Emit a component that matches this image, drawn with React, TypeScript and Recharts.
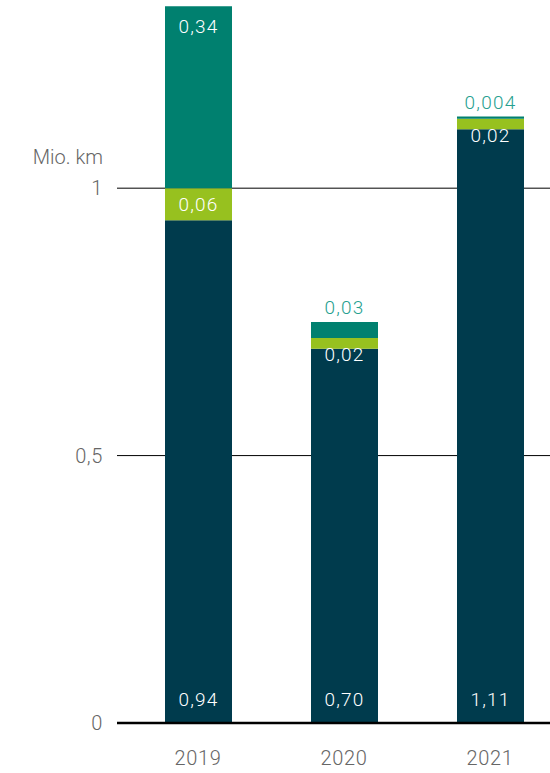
import React from 'react';
import { BarChart, Bar, XAxis, YAxis, CartesianGrid, LabelList } from 'recharts';

// Jahre und Werte (Mio. km)
const years = ['2019', '2020', '2021'];
const navyValues = [0.94, 0.7, 1.11];
const greenValues = [0.06, 0.02, 0.02];
const tealValues = [0.34, 0.03, 0.004];
const yTicks = [0, 0.5, 1];
const Y_MAX = 1.35;

const NAVY = '#003b4d';
const GREEN = '#97c11f';
const TEAL = '#00806f';
const TEAL_TEXT = '#26a090';
const FONT = 'Roboto, "Open Sans", sans-serif';

// Dezimalkomma
const fmt = (v: number): string => String(v.toFixed(v < 0.01 ? 3 : 2)).replace('.', ',');

const chartData = years.map((year, i) => ({
  year,
  navy: navyValues[i],
  green: greenValues[i],
  teal: tealValues[i],
}));

const textStyle = { fontFamily: FONT, fontSize: 19, fontWeight: 300, letterSpacing: 1.2 };
const tickStyle = { fill: '#666', fontFamily: FONT, fontSize: 20, fontWeight: 300, letterSpacing: 0.6 };

// Gitterlinien nur an den Ticks (nicht am oberen Rand)
const gridCoords = (p: any): number[] => {
  const scale = p?.yAxis?.scale;
  if (typeof scale === 'function') return yTicks.map((t) => scale(t));
  const { top, height } = p.offset;
  return yTicks.map((t) => top + height * (1 - t / Y_MAX));
};

function NavyLabel(props: any) {
  const { x, y, width, height, value } = props;
  return (
    <text x={x + width / 2} y={y + height - 24} fill="#fff" textAnchor="middle" dominantBaseline="central" style={textStyle}>
      {fmt(value)}
    </text>
  );
}

function GreenLabel(props: any) {
  const { x, y, width, height, value } = props;
  const small = height < 25;
  const cy = small ? y + height + 6 : y + height / 2;
  return (
    <text x={x + width / 2} y={cy} fill="#fff" textAnchor="middle" dominantBaseline="central" style={textStyle}>
      {fmt(value)}
    </text>
  );
}

function TealLabel(props: any) {
  const { x, y, width, height, value } = props;
  const small = height < 30;
  const cy = small ? y - 14 : y + 20;
  return (
    <text x={x + width / 2} y={cy} fill={small ? TEAL_TEXT : '#fff'} textAnchor="middle" dominantBaseline="central" style={textStyle}>
      {fmt(value)}
    </text>
  );
}

function UnitLabel(props: any) {
  const { viewBox } = props;
  return (
    <text x={viewBox.x + viewBox.width - 14} y={164} fill="#666" textAnchor="end" style={{ fontFamily: FONT, fontSize: 20, fontWeight: 300 }}>
      Mio. km
    </text>
  );
}

export default function App() {
  return (
    <div style={{ position: 'absolute', left: 0, top: 0, width: 550, height: 773, overflow: 'hidden', background: '#fff' }}>
      <BarChart width={570} height={773} data={chartData} margin={{ top: 1, right: 7, bottom: 0, left: 0 }} barSize={67}>
        <CartesianGrid
          horizontal
          vertical={false}
          stroke="#000"
          strokeWidth={1}
          horizontalCoordinatesGenerator={gridCoords}
        />
        <XAxis
          dataKey="year"
          height={50}
          padding={{ left: 8, right: 0 }}
          axisLine={{ stroke: '#000', strokeWidth: 2.5 }}
          tickLine={false}
          tickMargin={22}
          tick={tickStyle}
        />
        <YAxis
          width={117}
          domain={[0, Y_MAX]}
          ticks={yTicks}
          axisLine={false}
          tickLine={false}
          tickMargin={8}
          tickFormatter={(v: number) => String(v).replace('.', ',')}
          tick={tickStyle}
          label={{ value: 'Mio. km', content: UnitLabel }}
        />
        <Bar dataKey="navy" stackId="a" fill={NAVY} isAnimationActive={false}>
          <LabelList dataKey="navy" content={NavyLabel} />
        </Bar>
        <Bar dataKey="green" stackId="a" fill={GREEN} isAnimationActive={false}>
          <LabelList dataKey="green" content={GreenLabel} />
        </Bar>
        <Bar dataKey="teal" stackId="a" fill={TEAL} isAnimationActive={false}>
          <LabelList dataKey="teal" content={TealLabel} />
        </Bar>
      </BarChart>
    </div>
  );
}
